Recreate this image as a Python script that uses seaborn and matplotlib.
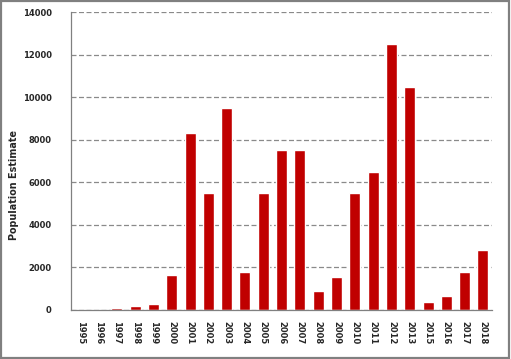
import matplotlib
matplotlib.use("Agg")
import matplotlib.pyplot as plt
import seaborn as sns
import pandas as pd
from matplotlib.patches import Rectangle

years = ['1995', '1996', '1997', '1998', '1999', '2000', '2001', '2002', '2003', '2004',
         '2005', '2006', '2007', '2008', '2009', '2010', '2011', '2012', '2013', '2015',
         '2016', '2017', '2018']
estimates = [0, 0, 80, 170, 300, 1650, 8300, 5500, 9500, 1800,
             5500, 7500, 7500, 900, 1550, 5500, 6500, 12500, 10500, 380,
             680, 1800, 2820]

df = pd.DataFrame({'year': years, 'est': estimates})

sns.set_style('white')
plt.rcParams['font.family'] = ['DejaVu Sans']

fig = plt.figure(figsize=(5.11, 3.59), dpi=100)
ax = fig.add_axes([0.139, 0.1365, 0.824, 0.830])

sns.barplot(data=df, x='year', y='est', color='#c00000', width=0.6,
            saturation=1, ax=ax)

ax.set_ylim(0, 14000)
ax.set_xlim(-0.5, len(years) - 0.5)
ax.set_yticks(range(0, 14001, 2000))
ax.yaxis.grid(True, linestyle=(0, (4, 2)), color='#8a8a8a', linewidth=0.9)
ax.set_axisbelow(True)

for s in ['top', 'right']:
    ax.spines[s].set_visible(False)
for s in ['left', 'bottom']:
    ax.spines[s].set_color('#808080')
    ax.spines[s].set_linewidth(0.9)

# category ticks between bars, like a spreadsheet chart
ax.set_xticks([i - 0.5 for i in range(len(years) + 1)], minor=True)
ax.tick_params(axis='x', which='minor', length=4, color='#808080', width=0.9)
ax.tick_params(axis='x', which='major', length=0, pad=8)
ax.tick_params(axis='y', length=3, color='#808080', width=0.9, pad=11)
ax.set_xticks(range(len(years)))
ax.set_xticklabels(years, rotation=270, fontsize=6, fontweight='bold')
for lab in ax.get_yticklabels():
    lab.set_fontsize(6)
    lab.set_fontweight('bold')

ax.set_xlabel('')
ax.set_ylabel('Population Estimate', fontsize=6.9, fontweight='bold')
ax.yaxis.set_label_coords(-0.123, 0.42)

fig.patches.append(Rectangle((0.002, 0.003), 0.995, 0.993, transform=fig.transFigure,
                             fill=False, edgecolor='#808080', linewidth=1.6))

fig.savefig('out.png', dpi=100)
